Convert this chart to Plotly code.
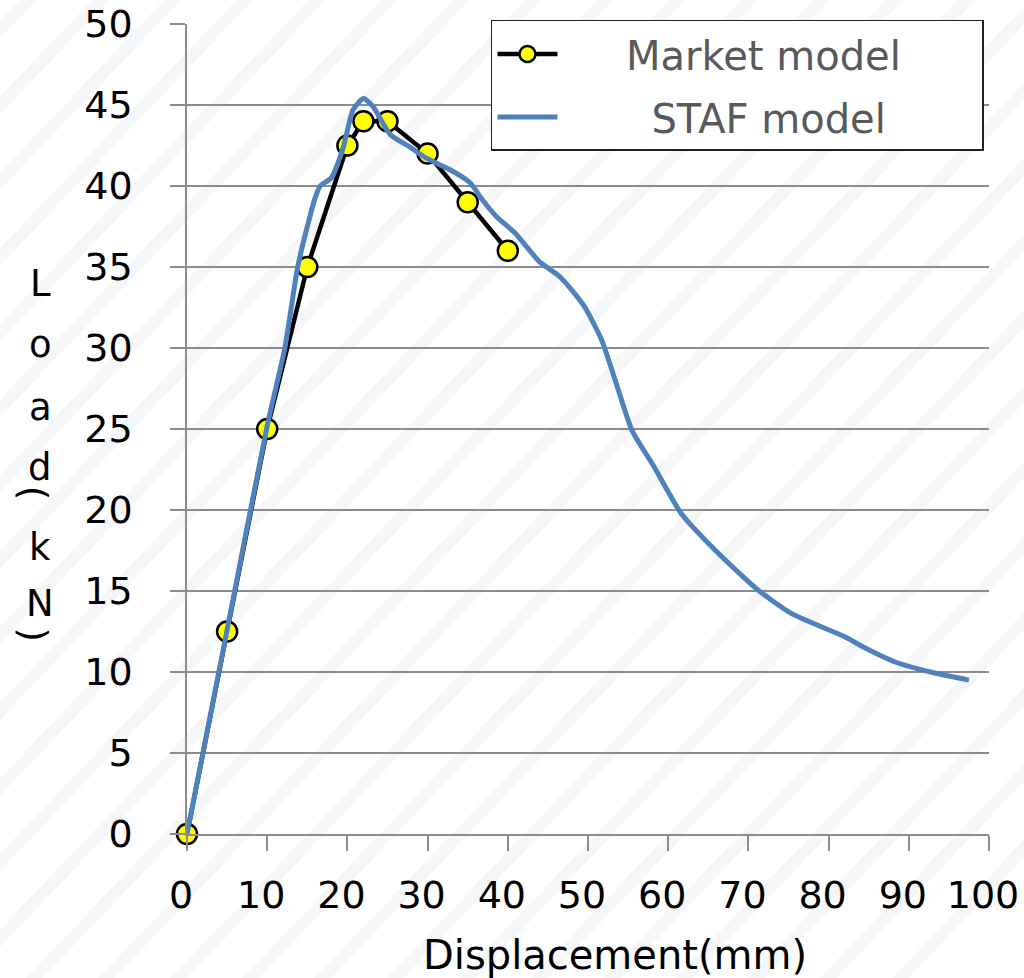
import plotly.graph_objects as go

# Market model (measured points)
market_x = [0, 5, 10, 15, 20, 22, 25, 30, 35, 40]
market_y = [0, 12.5, 25, 35, 42.5, 44, 44, 42, 39, 36]

# STAF model (simulation curve)
staf_x = [0, 5, 10, 12.2, 13.8, 14.9, 16.0, 16.6, 18.0, 19.5, 20.7, 22.0, 23.2,
          25.3, 27.8, 29.9, 32.8, 35.3, 36.9, 38.6, 40.9, 44.0, 46.5, 49.5,
          51.7, 53.4, 55.5, 58.2, 61.6, 65.9, 71.1, 75.4, 81.9, 84.5, 88.4,
          92.7, 97.5]
staf_y = [0, 12.6, 25.2, 30.0, 35.0, 37.3, 39.3, 40.0, 40.5, 42.4, 44.7, 45.4, 44.9,
          43.2, 42.4, 41.7, 41.0, 40.2, 39.1, 38.1, 37.1, 35.3, 34.4, 32.6,
          30.5, 28.0, 24.9, 22.7, 19.8, 17.5, 15.1, 13.6, 12.2, 11.5, 10.6,
          10.0, 9.5]

x_ticks = list(range(0, 101, 10))
y_ticks = list(range(0, 51, 5))
x_title = "Displacement(mm)"
# vertical y-axis title "Load(kN)": letters upright, parentheses turned
y_title_chars = ["L", "o", "a", "d", "(", "k", "N", ")"]
y_title_pos = [0.680, 0.604, 0.526, 0.452, 0.421, 0.354, 0.285, 0.246]
y_title_rot = [0, 0, 0, 0, 90, 0, 0, 90]

FONT = "DejaVu Sans"
GRID = "#8c8c8c"
NB = "\u00a0"

fig = go.Figure()
fig.add_trace(go.Scatter(
    x=market_x, y=market_y, mode="lines+markers",
    name=NB * 5 + "Market model" + NB * 6,
    legendgroup="market",
    line=dict(color="black", width=4.5),
    marker=dict(symbol="circle", size=20, color="#FFFF00",
                line=dict(color="black", width=2.5)),
    cliponaxis=False,
))
fig.add_trace(go.Scatter(
    x=staf_x, y=staf_y, mode="lines",
    name=NB * 7 + "STAF model",
    legendgroup="staf",
    line=dict(color="#4F81BD", width=5, shape="spline", smoothing=0.6),
    cliponaxis=False,
))

# faint diagonal background stripes
stripes = []
for i in range(-14, 14):
    x0 = i * 0.09
    stripes.append(dict(
        type="line", xref="paper", yref="paper", layer="below",
        x0=x0 - 0.35, y0=-0.25, x1=x0 + 0.95, y1=1.1,
        line=dict(color="rgba(214,220,228,0.25)", width=12),
    ))

annotations = [dict(
    text=x_title, xref="paper", yref="paper", x=0.534, y=-0.149,
    xanchor="center", yanchor="middle", showarrow=False,
    font=dict(family=FONT, size=40, color="black"),
)]
for ch, yp, rot in zip(y_title_chars, y_title_pos, y_title_rot):
    annotations.append(dict(
        text=ch, xref="paper", yref="paper",
        x=-0.193 if rot else -0.183, y=yp, textangle=rot,
        xanchor="center", yanchor="middle", showarrow=False,
        font=dict(family=FONT, size=37, color="black"),
    ))

fig.update_layout(
    width=1024, height=978,
    margin=dict(l=187, r=35, t=24, b=144, autoexpand=False),
    paper_bgcolor="white", plot_bgcolor="rgba(255,255,255,0.6)",
    font=dict(family=FONT, size=38, color="black"),
    showlegend=True,
    legend=dict(
        x=0.379, y=1.005, xanchor="left", yanchor="top",
        bgcolor="white", bordercolor="#222222", borderwidth=1.5,
        font=dict(family=FONT, size=40, color="#595959"),
        itemwidth=60, tracegroupgap=8, traceorder="grouped",
    ),
    shapes=stripes,
    annotations=annotations,
)
fig.update_xaxes(
    range=[0, 100], tickvals=x_ticks, ticktext=[str(v) for v in x_ticks],
    showgrid=False, zeroline=False, automargin=False,
    showline=True, linecolor=GRID, linewidth=1.5,
    ticks="outside", ticklen=15, tickcolor=GRID, tickwidth=1.5,
    tickfont=dict(family=FONT, size=38, color="black"),
    ticklabelstandoff=12, ticklabelshift=-6,
)
fig.update_yaxes(
    range=[0, 50], tickvals=y_ticks, ticktext=[str(v) for v in y_ticks],
    showgrid=True, gridcolor=GRID, gridwidth=1.5, zeroline=False, automargin=False,
    showline=True, linecolor=GRID, linewidth=1.5,
    ticks="outside", ticklen=15, tickcolor=GRID, tickwidth=1.5,
    tickfont=dict(family=FONT, size=38, color="black"),
    ticklabelstandoff=30,
)

fig.write_html("out.html")
